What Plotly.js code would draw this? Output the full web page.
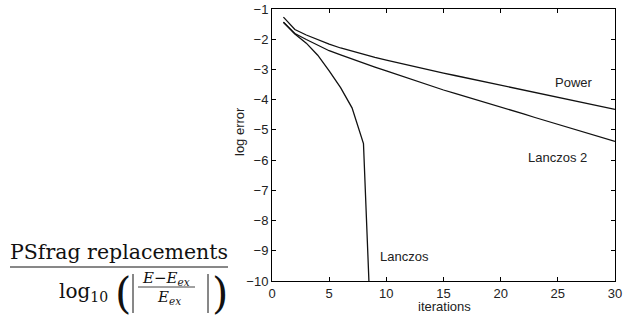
<!DOCTYPE html>
<html>
<head>
<meta charset="utf-8">
<script src="https://cdn.plot.ly/plotly-3.0.1.min.js"></script>
<style>html,body{margin:0;padding:0;background:#fff;}#chart{width:623px;height:320px;}</style>
</head>
<body>
<div id="chart"></div>
<script>
// ---- data ----
const iterations = [1,2,3,4,5,6,7,8,9,10,11,12,13,14,15,16,17,18,19,20,21,22,23,24,25,26,27,28,29,30];
const powerErr = [-1.27,-1.68,-1.86,-2.02,-2.16,-2.29,-2.40,-2.50,-2.60,-2.69,-2.78,-2.87,-2.95,-3.04,-3.12,-3.20,-3.28,-3.36,-3.44,-3.52,-3.60,-3.68,-3.76,-3.84,-3.92,-4.00,-4.08,-4.16,-4.24,-4.32];
const lanczos2Err = [-1.44,-1.81,-2.01,-2.20,-2.38,-2.52,-2.66,-2.79,-2.92,-3.05,-3.18,-3.30,-3.43,-3.56,-3.68,-3.79,-3.90,-4.02,-4.13,-4.25,-4.36,-4.47,-4.59,-4.70,-4.82,-4.93,-5.04,-5.15,-5.27,-5.38];
const lanczosIter = [1,2,3,4,5,6,7,8,9];
const lanczosErr = [-1.44,-1.83,-2.13,-2.53,-3.05,-3.60,-4.27,-5.45,-15.0];
const seriesNames = ["Power","Lanczos 2","Lanczos"];
const xTicks = [0,5,10,15,20,25,30];
const yTicks = [-1,-2,-3,-4,-5,-6,-7,-8,-9,-10];
const xTitle = "iterations";
const yTitle = "log error";
const fragTitle = "PSfrag replacements";

// ---- layout helpers (pixel -> paper) ----
const L = 272, R = 615, T = 9, B = 281;
const px = x => (x - L) / (R - L);
const py = y => (B - y) / (B - T);

const sans = "Arial, 'Liberation Sans', Helvetica, sans-serif";
const serif = "'DejaVu Serif', 'Liberation Serif', serif";
const lineStyle = {color: "#111", width: 1.3};

const traces = [
  {x: iterations, y: powerErr, mode: "lines", line: lineStyle, name: seriesNames[0], hoverinfo: "skip"},
  {x: iterations, y: lanczos2Err, mode: "lines", line: lineStyle, name: seriesNames[1], hoverinfo: "skip"},
  {x: lanczosIter, y: lanczosErr, mode: "lines", line: lineStyle, name: seriesNames[2], hoverinfo: "skip"}
];

const axisCommon = {
  showline: true, linecolor: "#000", linewidth: 1, mirror: "ticks",
  ticks: "inside", ticklen: 4, tickwidth: 1, tickcolor: "#000",
  showgrid: false, zeroline: false,
  tickfont: {family: sans, size: 13, color: "#222"}
};

function note(o) {
  return Object.assign({showarrow: false, xanchor: "center", yanchor: "middle", borderpad: 0}, o);
}
const sansFont = {family: sans, size: 13, color: "#222"};
const mathFont = {family: serif, size: 15, color: "#111"};

const annotations = [
  note({xref: "x", yref: "y", x: 26.45, y: -3.43, text: seriesNames[0], font: sansFont}),
  note({xref: "x", yref: "y", x: 24.95, y: -5.92, text: seriesNames[1], font: sansFont}),
  note({xref: "x", yref: "y", x: 11.6, y: -9.2, text: seriesNames[2], font: sansFont}),
  note({xref: "paper", yref: "paper", x: px(444), y: py(306), text: xTitle, font: sansFont}),
  note({xref: "paper", yref: "paper", x: px(239), y: py(132), text: yTitle, textangle: -90, font: sansFont}),
  note({xref: "paper", yref: "paper", x: px(119), y: py(252), text: fragTitle, font: {family: serif, size: 20.5, color: "#111"}}),
  note({xref: "paper", yref: "paper", x: px(83), y: py(292), text: "log<sub>10</sub>", font: {family: serif, size: 20, color: "#111"}}),
  note({xref: "paper", yref: "paper", x: px(123), y: py(293), text: "(", font: {family: serif, size: 42, color: "#111"}}),
  note({xref: "paper", yref: "paper", x: px(220), y: py(293), text: ")", font: {family: serif, size: 42, color: "#111"}}),
  note({xref: "paper", yref: "paper", x: px(166), y: py(278), text: "<i>E</i>\u2212<i>E</i><sub><i>ex</i></sub>", font: mathFont}),
  note({xref: "paper", yref: "paper", x: px(169), y: py(297), text: "<i>E</i><sub><i>ex</i></sub>", font: mathFont})
];

const shapes = [
  {type: "line", xref: "paper", yref: "paper", x0: px(10), x1: px(228), y0: py(267), y1: py(267), line: {color: "#111", width: 1}},
  {type: "line", xref: "paper", yref: "paper", x0: px(138), x1: px(195), y0: py(287), y1: py(287), line: {color: "#111", width: 0.8}},
  {type: "line", xref: "paper", yref: "paper", x0: px(133), x1: px(133), y0: py(274), y1: py(313), line: {color: "#111", width: 1}},
  {type: "line", xref: "paper", yref: "paper", x0: px(208), x1: px(208), y0: py(274), y1: py(313), line: {color: "#111", width: 1}}
];

const layout = {
  width: 623, height: 320,
  margin: {l: L, r: 623 - R, t: T, b: 320 - B, pad: 0},
  paper_bgcolor: "#fff", plot_bgcolor: "#fff",
  showlegend: false,
  xaxis: Object.assign({}, axisCommon, {range: [0, 30], tickvals: xTicks, ticktext: xTicks.map(String)}),
  yaxis: Object.assign({}, axisCommon, {range: [-10, -1], tickvals: yTicks}),
  annotations: annotations,
  shapes: shapes
};

Plotly.newPlot("chart", traces, layout, {staticPlot: true, displayModeBar: false});
</script>
</body>
</html>
